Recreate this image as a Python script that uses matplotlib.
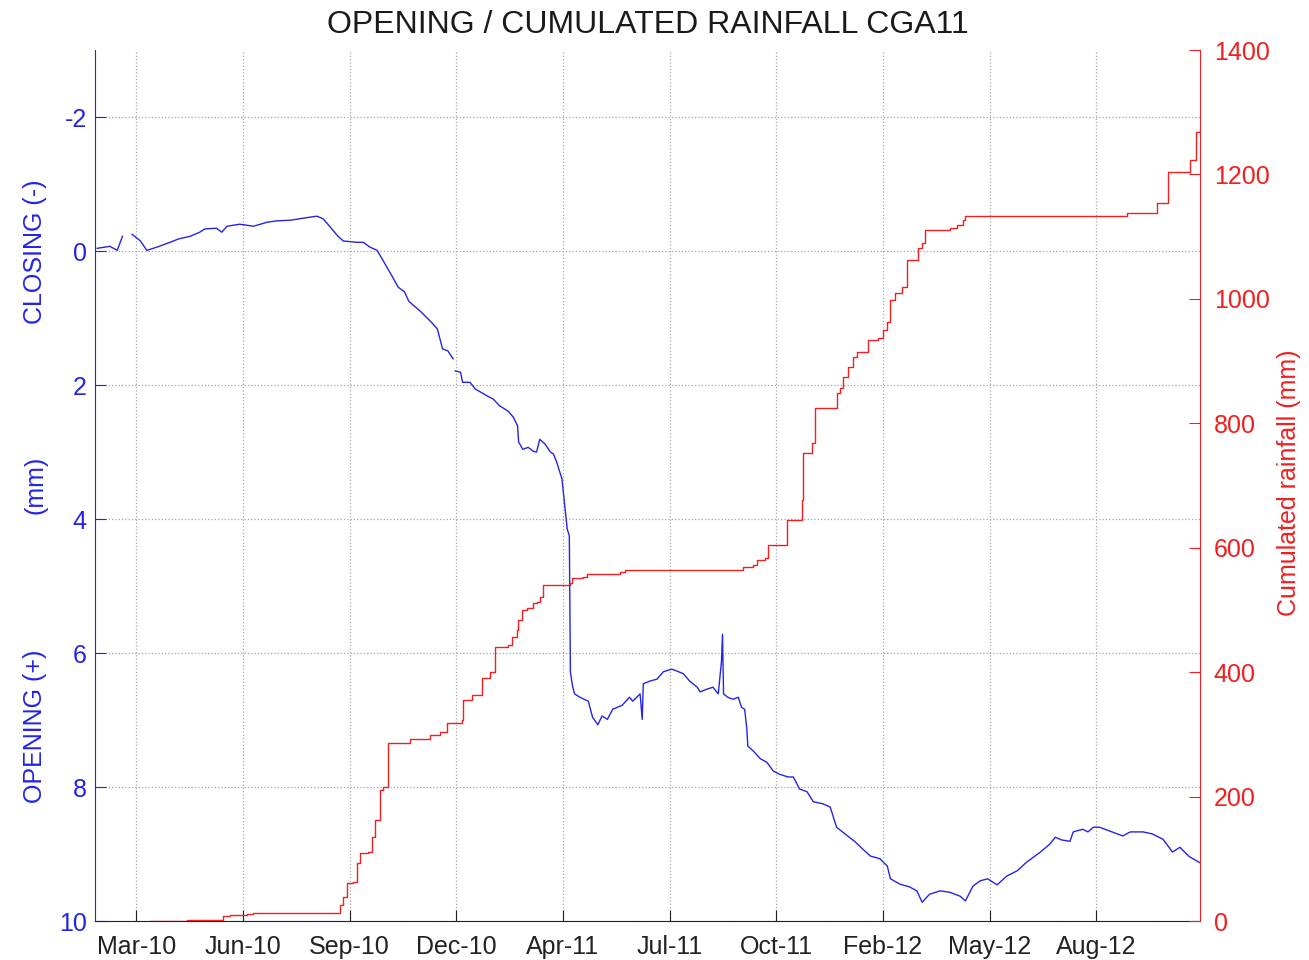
import numpy as np
import pandas as pd
import matplotlib
matplotlib.use("Agg")
import matplotlib.pyplot as plt
import matplotlib.dates as mdates

plt.rcParams['font.family'] = ['Liberation Sans', 'DejaVu Sans']
plt.rcParams['axes.unicode_minus'] = False

# start of the record, x values are days counted from here
start_date = "2010-01-22"
end_day = 1046

# opening of the crack (mm), nan = gap in the record
open_days = [2, 14, 21, 26, 30,
             35, 43, 49, 59, 71, 79, 90, 99, 104, 115, 120, 125, 137, 150, 163,
             172, 185, 197, 210, 216, 222, 230, 235, 248, 254, 260, 267, 273, 281,
             287, 293, 297, 308, 317, 324, 329, 334, 339, 340,
             341, 346, 348, 355, 360, 371, 377, 383, 391, 396, 400, 401, 405, 410,
             415, 418, 421, 426, 431, 434, 437, 442, 445, 447, 449, 450, 452, 454,
             459, 467, 471, 476, 480, 485, 490, 499, 506, 509, 516, 518, 519, 525,
             532, 538, 546, 551, 557, 563, 570, 573, 579, 585, 590, 593, 594, 595,
             599, 604, 609, 612, 615, 617, 618, 623, 630, 636, 642, 648, 656, 661,
             667, 674, 680, 689, 696, 702, 710, 719, 727, 734, 743, 750, 753, 762,
             771, 778, 783, 790, 800, 809, 819, 824, 831, 838, 845, 854, 863, 873,
             882, 895, 904, 909, 915, 923, 926, 935, 940, 945, 951, 961, 973, 980,
             992, 1001, 1011, 1020, 1027, 1036, 1046]
open_mm = [-0.04, -0.07, -0.01, -0.22, np.nan,
           -0.25, -0.15, -0.01, -0.06, -0.13, -0.18, -0.22, -0.28, -0.33, -0.34, -0.28, -0.37, -0.40, -0.37, -0.43,
           -0.45, -0.46, -0.49, -0.52, -0.48, -0.37, -0.22, -0.15, -0.13, -0.13, -0.06, -0.01, 0.15, 0.37,
           0.54, 0.61, 0.75, 0.90, 1.04, 1.16, 1.46, 1.49, 1.61, np.nan,
           1.79, 1.81, 1.96, 1.96, 2.06, 2.16, 2.21, 2.31, 2.39, 2.48, 2.61, 2.85, 2.96, 2.93,
           2.99, 3.00, 2.81, 2.88, 3.00, 3.03, 3.15, 3.40, 3.85, 4.15, 4.25, 6.28, 6.49, 6.61,
           6.66, 6.72, 6.96, 7.07, 6.94, 6.99, 6.84, 6.78, 6.66, 6.72, 6.61, 6.99, 6.46, 6.42,
           6.39, 6.28, 6.24, 6.27, 6.31, 6.42, 6.51, 6.58, 6.54, 6.51, 6.61, 6.13, 5.72, 6.61,
           6.66, 6.69, 6.66, 6.81, 6.84, 7.13, 7.39, 7.46, 7.58, 7.63, 7.76, 7.81, 7.85, 7.85,
           8.03, 8.07, 8.22, 8.25, 8.30, 8.60, 8.70, 8.81, 8.93, 9.03, 9.07, 9.18, 9.37, 9.45,
           9.49, 9.55, 9.72, 9.60, 9.55, 9.57, 9.63, 9.70, 9.48, 9.40, 9.37, 9.46, 9.33, 9.25,
           9.12, 8.97, 8.85, 8.75, 8.79, 8.81, 8.67, 8.63, 8.67, 8.60, 8.60, 8.66, 8.73, 8.67,
           8.67, 8.70, 8.78, 8.97, 8.90, 9.04, 9.13]

# cumulated rainfall (mm), level reached from each day on
rain_days = [52, 87, 112, 121, 128, 144, 150, 230, 232, 235, 239, 244, 248, 251, 258,
             262, 265, 270, 273, 277, 298, 317, 327, 333, 347, 348, 357, 366, 374,
             379, 391, 395, 399, 400, 404, 409, 415, 418, 421, 424, 450, 452, 462,
             466, 497, 502, 604, 613, 623, 627, 634, 637, 655, 669, 670, 679, 682,
             702, 705, 708, 713, 718, 721, 732, 741, 746, 750, 753, 757, 764, 769,
             779, 783, 786, 809, 816, 822, 824, 967, 977, 1005, 1016, 1037, 1042, 1046]
rain_mm = [0, 1, 2, 8, 10, 11, 13, 13, 26, 39, 61, 63, 93, 109, 111,
           135, 162, 211, 215, 286, 293, 299, 304, 318, 323, 355, 363, 391, 400,
           440, 444, 457, 468, 484, 500, 503, 511, 513, 521, 540, 543, 551, 553,
           558, 561, 564, 564, 569, 572, 580, 583, 604, 645, 677, 752, 768, 825,
           849, 857, 874, 890, 907, 915, 934, 937, 950, 963, 998, 1009, 1019, 1062,
           1082, 1090, 1111, 1114, 1119, 1127, 1134, 1134, 1138, 1154, 1204, 1223, 1268, 1271]

t0 = pd.Timestamp(start_date)
t_open = t0 + pd.to_timedelta(open_days, unit="D")
t_rain = t0 + pd.to_timedelta(rain_days, unit="D")
tick_dates = pd.date_range("2010-03-02", periods=10, freq="101D")

fig = plt.figure(figsize=(13.09, 9.6), dpi=100)
ax = fig.add_axes([0.0726, 0.0406, 0.8441, 0.9073])
ax2 = ax.twinx()

ax.plot(t_open, open_mm, color="#2424e8", lw=1.0)
ax2.plot(t_rain, rain_mm, color="#f02020", lw=1.0, drawstyle="steps-post")

ax.set_xlim(t0, t0 + pd.Timedelta(days=end_day))
ax.set_ylim(10, -3)
ax.set_yticks([-2, 0, 2, 4, 6, 8, 10])
ax2.set_ylim(0, 1400)
ax2.set_yticks(np.arange(0, 1401, 200))

ax.set_xticks(tick_dates)
ax.xaxis.set_major_formatter(mdates.DateFormatter("%b-%y"))

# matlab-ish look
for a in (ax, ax2):
    a.spines["top"].set_visible(False)
ax.spines["right"].set_visible(False)
ax2.spines["left"].set_visible(False)
ax2.spines["bottom"].set_visible(False)
ax.spines["left"].set_color("#2424e8")
ax2.spines["right"].set_color("#f02020")
ax.spines["bottom"].set_color("#222222")

ax.tick_params(axis="y", direction="in", length=8, colors="#2424e8", labelsize=18, pad=6)
ax.tick_params(axis="x", direction="in", length=8, colors="#222222", labelsize=18, pad=10)
ax2.tick_params(axis="y", direction="in", length=8, colors="#f02020", labelsize=18, pad=10)

ax.xaxis.grid(True, color="#a8a8a8", ls=":", lw=0.9)
ax.yaxis.grid(True, color="#9c9ce0", ls=":", lw=0.9)

ax.set_title("OPENING / CUMULATED RAINFALL CGA11", fontsize=23, color="#1a1a1a", pad=12)

ax.text(-0.054, 0.768, "CLOSING (-)", rotation=90, color="#2424e8", fontsize=18,
        ha="center", va="center", transform=ax.transAxes)
ax.text(-0.054, 0.501, "(mm)", rotation=90, color="#2424e8", fontsize=18,
        ha="center", va="center", transform=ax.transAxes)
ax.text(-0.054, 0.224, "OPENING (+)", rotation=90, color="#2424e8", fontsize=18,
        ha="center", va="center", transform=ax.transAxes)
ax2.text(1.081, 0.503, "Cumulated rainfall (mm)", rotation=90, color="#f02020", fontsize=18,
         ha="center", va="center", transform=ax2.transAxes)

fig.savefig("out.png", dpi=100)
